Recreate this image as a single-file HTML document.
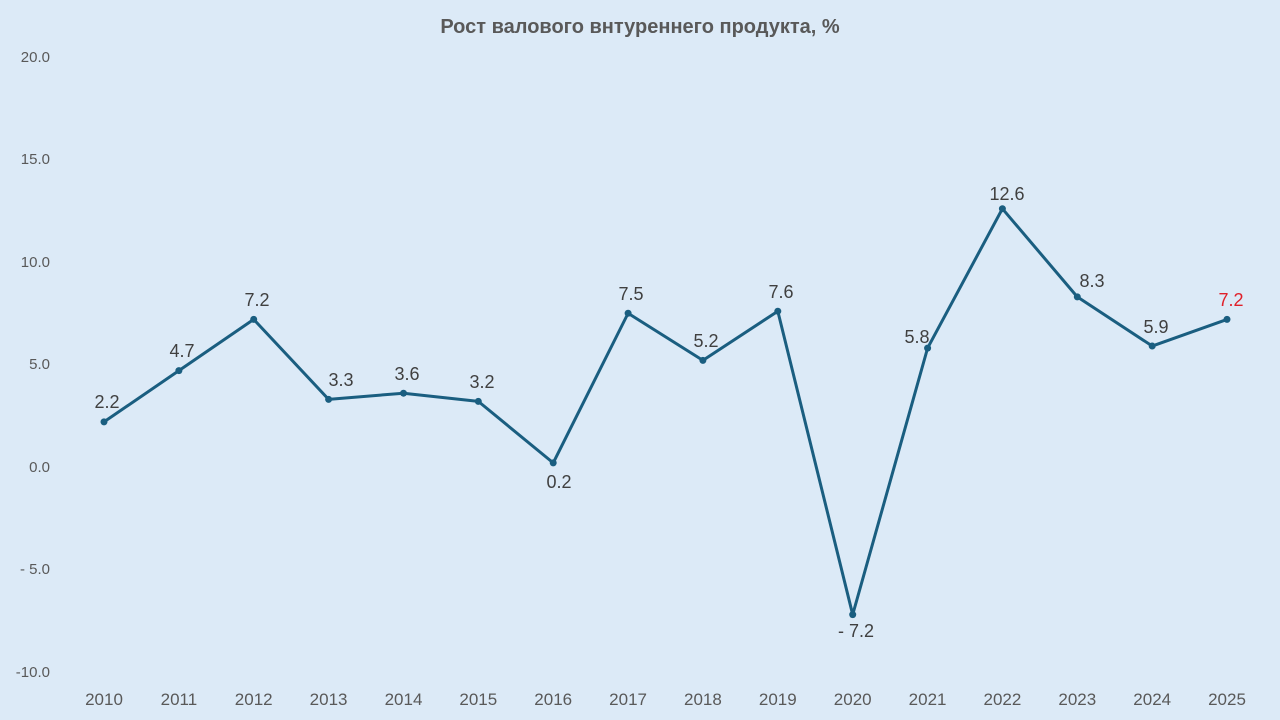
<!DOCTYPE html><html><head><meta charset="utf-8"><style>body{margin:0;background:#dceaf7}svg{display:block}text{font-family:"Liberation Sans",sans-serif}</style></head><body>
<svg width="1280" height="720" viewBox="0 0 1280 720">
<rect width="1280" height="720" fill="#dceaf7"/>
<text x="640" y="33" text-anchor="middle" font-size="20" font-weight="bold" fill="#595959">Рост валового внтуреннего продукта, %</text>
<g font-size="15" fill="#595959" text-anchor="end">
<text x="50" y="62">20.0</text><text x="50" y="164">15.0</text><text x="50" y="267">10.0</text><text x="50" y="369">5.0</text><text x="50" y="472">0.0</text><text x="50" y="574">- 5.0</text><text x="50" y="677">-10.0</text>
</g>
<g font-size="17" fill="#595959" text-anchor="middle">
<text x="104" y="705">2010</text><text x="178.9" y="705">2011</text><text x="253.7" y="705">2012</text><text x="328.6" y="705">2013</text><text x="403.5" y="705">2014</text><text x="478.3" y="705">2015</text><text x="553.2" y="705">2016</text><text x="628.1" y="705">2017</text><text x="702.9" y="705">2018</text><text x="777.8" y="705">2019</text><text x="852.7" y="705">2020</text><text x="927.6" y="705">2021</text><text x="1002.4" y="705">2022</text><text x="1077.3" y="705">2023</text><text x="1152.2" y="705">2024</text><text x="1227" y="705">2025</text>
</g>
<polyline fill="none" stroke="#1a5e80" stroke-width="3" stroke-linejoin="round" points="104,421.9 178.9,370.65 253.7,319.4 328.6,399.35 403.5,393.2 478.3,401.4 553.2,462.9 628.1,313.25 702.9,360.4 777.8,311.2 852.7,614.6 927.6,348.1 1002.4,208.7 1077.3,296.85 1152.2,346.05 1227,319.4"/>
<g fill="#1a5e80">
<circle cx="104" cy="421.9" r="3.5"/><circle cx="178.9" cy="370.65" r="3.5"/><circle cx="253.7" cy="319.4" r="3.5"/><circle cx="328.6" cy="399.35" r="3.5"/><circle cx="403.5" cy="393.2" r="3.5"/><circle cx="478.3" cy="401.4" r="3.5"/><circle cx="553.2" cy="462.9" r="3.5"/><circle cx="628.1" cy="313.25" r="3.5"/><circle cx="702.9" cy="360.4" r="3.5"/><circle cx="777.8" cy="311.2" r="3.5"/><circle cx="852.7" cy="614.6" r="3.5"/><circle cx="927.6" cy="348.1" r="3.5"/><circle cx="1002.4" cy="208.7" r="3.5"/><circle cx="1077.3" cy="296.85" r="3.5"/><circle cx="1152.2" cy="346.05" r="3.5"/><circle cx="1227" cy="319.4" r="3.5"/>
</g>
<g font-size="18" fill="#404040" text-anchor="middle">
<text x="107" y="408">2.2</text><text x="182" y="357">4.7</text><text x="257" y="306">7.2</text><text x="341" y="386">3.3</text><text x="407" y="380">3.6</text><text x="482" y="388">3.2</text><text x="559" y="488">0.2</text><text x="631" y="300">7.5</text><text x="706" y="347">5.2</text><text x="781" y="298">7.6</text><text x="856" y="637">- 7.2</text><text x="917" y="343">5.8</text><text x="1007" y="200">12.6</text><text x="1092" y="287">8.3</text><text x="1156" y="333">5.9</text><text x="1231" y="306" fill="#e0202a">7.2</text>
</g>
</svg></body></html>
